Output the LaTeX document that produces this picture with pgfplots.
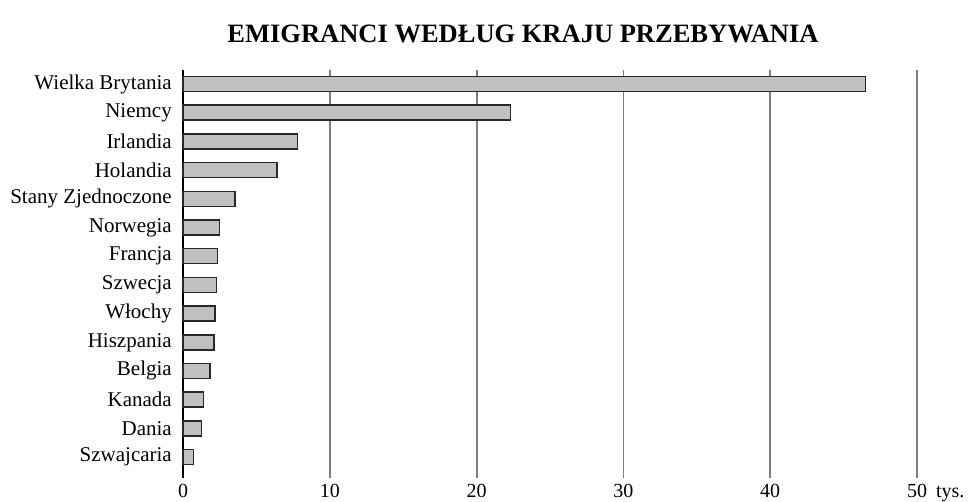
\documentclass[border=0pt]{standalone}
\usepackage{fontspec}
\setmainfont{Liberation Serif}
\usepackage{pgfplots}
\pgfplotsset{compat=1.18}
\begin{document}
\begin{tikzpicture}[x=1pt,y=1pt]
\useasboundingbox (0,0) rectangle (971,502);
\node[anchor=base,font=\fontsize{26.5}{30}\selectfont\bfseries,inner sep=0pt] at (523,459) {EMIGRANCI WEDŁUG KRAJU PRZEBYWANIA};
\begin{axis}[
  at={(183pt,24pt)}, anchor=south west,
  scale only axis, width=734pt, height=408pt,
  xmin=0, xmax=50, ymin=-0.49, ymax=13.73, y dir=reverse,
  xbar, bar width=15pt,
  axis y line*=left, axis x line*=bottom,
  x axis line style={draw=none},
  y axis line style={draw=black, line width=1.3pt, -},
  axis on top=false,
  major tick length=0pt,
  xtick={0,10,20,30,40,50},
  xticklabels={0,10,20,30,40,{50\rlap{\hspace{0.45em}tys.}}},
  ytick={0,...,13},
  yticklabels={Wielka Brytania,Niemcy,Irlandia,Holandia,Stany Zjednoczone,Norwegia,Francja,Szwecja,Włochy,Hiszpania,Belgia,Kanada,Dania,Szwajcaria},
  xmajorgrids, grid style={draw={rgb,255:red,125;green,125;blue,125}, line width=1.8pt},
  /pgf/number format/assume math mode=true,
  xticklabel style={font=\fontsize{20}{24}\selectfont, inner sep=0pt, yshift=-6pt},
  yticklabel style={font=\fontsize{21}{25}\selectfont, inner sep=0pt, xshift=-11pt},
  clip=false,
]
\addplot[fill={rgb,255:red,192;green,192;blue,192}, draw={rgb,255:red,40;green,40;blue,40}, line width=1.5pt]
coordinates {
(46.5,0) (22.3,1) (7.8,2) (6.4,3) (3.55,4) (2.5,5) (2.36,6) (2.27,7) (2.18,8) (2.1,9) (1.84,10) (1.4,11) (1.25,12) (0.7,13)
};
\end{axis}
\end{tikzpicture}
\end{document}
